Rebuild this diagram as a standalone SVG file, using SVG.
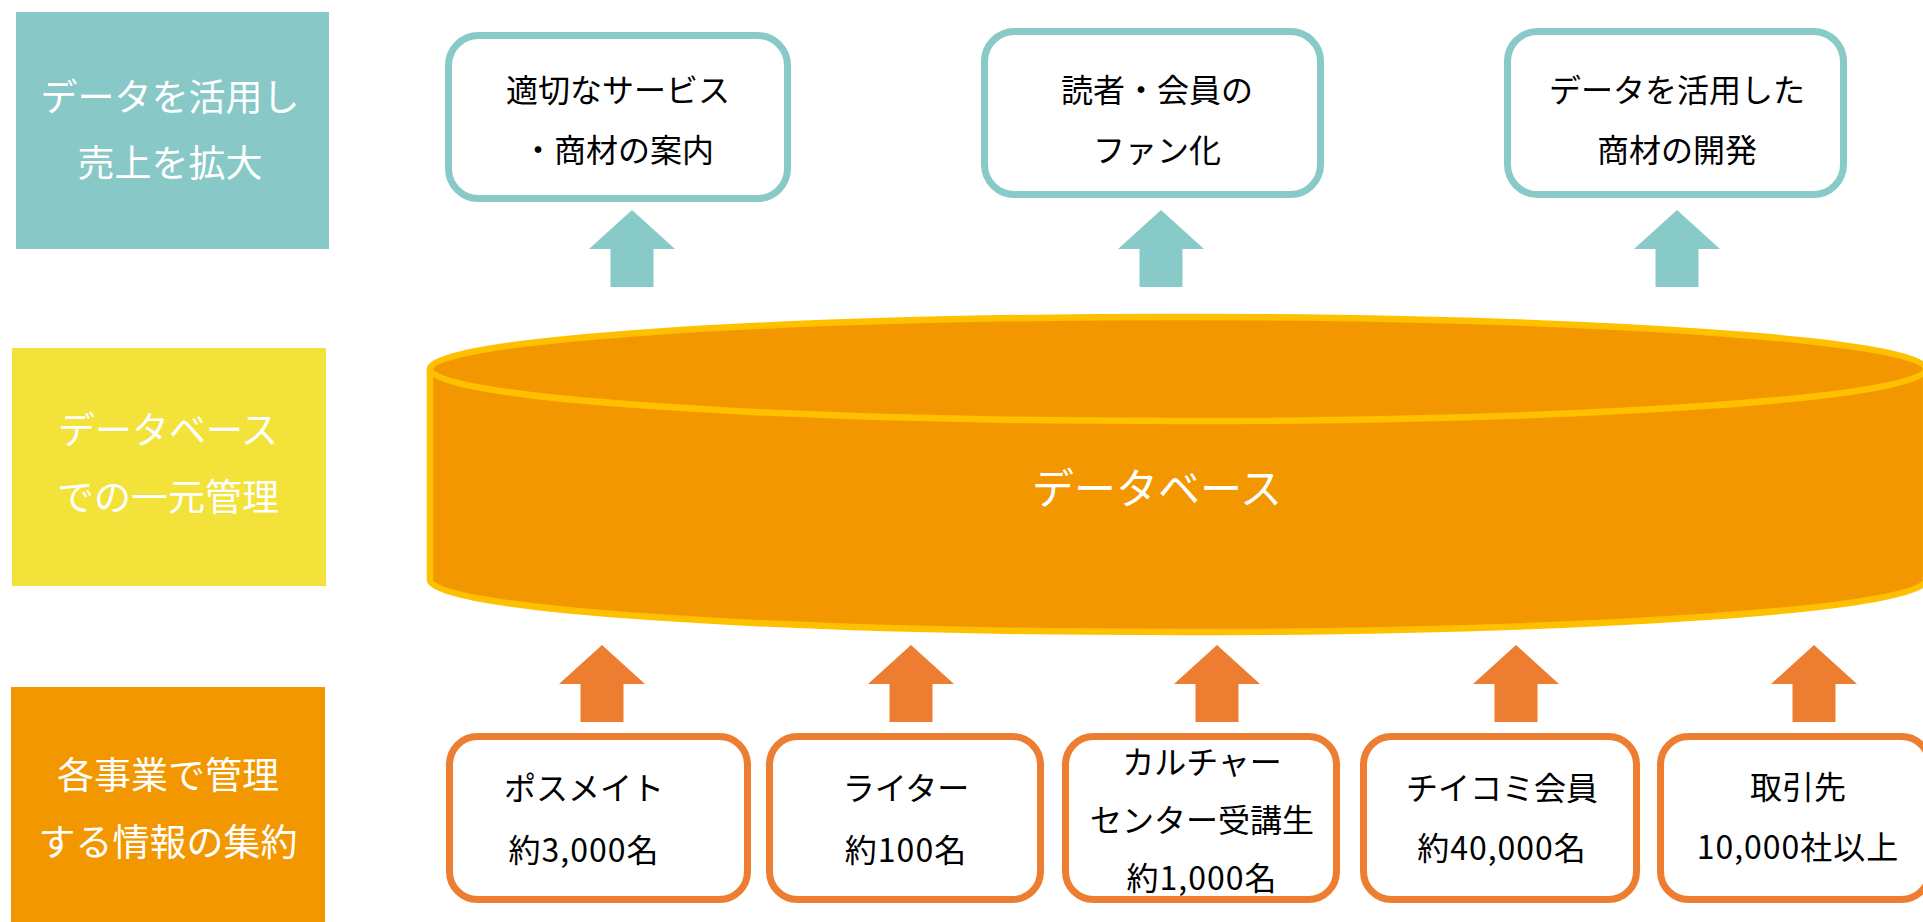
<svg xmlns="http://www.w3.org/2000/svg" width="1923" height="922" viewBox="0 0 1923 922">
<style>
.lbl{font-family:"Noto Sans CJK JP","Noto Sans",sans-serif;font-size:37px;fill:#ffffff;text-anchor:middle}
.txt{font-family:"Noto Sans CJK JP","Noto Sans",sans-serif;font-size:32px;fill:#000000;text-anchor:middle}
.dbt{font-family:"Noto Sans CJK JP","Noto Sans",sans-serif;font-size:42px;fill:#ffffff;text-anchor:middle}
.tbox{fill:#ffffff;stroke:#88CAC8;stroke-width:7}
.obox{fill:#ffffff;stroke:#ED7D31;stroke-width:7}
.tarr{fill:#88CAC8}
.oarr{fill:#ED7D31}
</style>
<rect width="1923" height="922" fill="#ffffff"/>

<g id="label-top">
<rect x="16" y="12" width="313" height="237" fill="#88C9C7"/>
<text class="lbl" x="170" y="111">データを活用し</text>
<text class="lbl" x="170" y="177">売上を拡大</text>
</g>
<g id="label-mid">
<rect x="12" y="348" width="314" height="238" fill="#F2E239"/>
<text class="lbl" x="168" y="444">データベース</text>
<text class="lbl" x="168" y="511">での一元管理</text>
</g>
<g id="label-bottom">
<rect x="11" y="687" width="314" height="235" fill="#F39700"/>
<text class="lbl" x="168" y="789">各事業で管理</text>
<text class="lbl" x="168" y="856">する情報の集約</text>
</g>

<g id="out1">
<rect class="tbox" x="448.5" y="35.5" width="339" height="163" rx="30"/>
<text class="txt" x="618" y="102">適切なサービス</text>
<text class="txt" x="618" y="162">・商材の案内</text>
</g>
<g id="out2">
<rect class="tbox" x="984.5" y="31.5" width="336" height="163" rx="30"/>
<text class="txt" x="1157" y="102">読者・会員の</text>
<text class="txt" x="1157" y="162">ファン化</text>
</g>
<g id="out3">
<rect class="tbox" x="1507.5" y="31.5" width="336" height="163" rx="30"/>
<text class="txt" x="1677" y="102">データを活用した</text>
<text class="txt" x="1677" y="162">商材の開発</text>
</g>

<g id="database">
<path d="M430,369 L430,580 A748,52 0 0 0 1926,580 L1926,369 Z" fill="#F39700" stroke="#FFC000" stroke-width="6.5" stroke-linejoin="round"/>
<ellipse cx="1178" cy="369" rx="748" ry="52" fill="#F39700" stroke="#FFC000" stroke-width="6.5"/>
<text class="dbt" x="1157" y="504">データベース</text>
</g>

<g id="src1">
<rect class="obox" x="449.5" y="736.5" width="298" height="163" rx="28"/>
<text class="txt" x="584" y="800">ポスメイト</text>
<text class="txt" x="584" y="862" letter-spacing="1">約3,000名</text>
</g>
<g id="src2">
<rect class="obox" x="769.5" y="736.5" width="271" height="163" rx="28"/>
<text class="txt" x="906" y="800">ライター</text>
<text class="txt" x="906" y="862" letter-spacing="1">約100名</text>
</g>
<g id="src3">
<rect class="obox" x="1065.5" y="736.5" width="271" height="163" rx="28"/>
<text class="txt" x="1202" y="774">カルチャー</text>
<text class="txt" x="1202" y="832">センター受講生</text>
<text class="txt" x="1202" y="890" letter-spacing="1">約1,000名</text>
</g>
<g id="src4">
<rect class="obox" x="1363.5" y="736.5" width="273" height="163" rx="28"/>
<text class="txt" x="1502" y="800">チイコミ会員</text>
<text class="txt" x="1502" y="860" letter-spacing="1">約40,000名</text>
</g>
<g id="src5">
<rect class="obox" x="1660.5" y="736.5" width="269" height="163" rx="28"/>
<text class="txt" x="1798" y="799">取引先</text>
<text class="txt" x="1798" y="859" letter-spacing="1">10,000社以上</text>
</g>

<g id="connectors">
<path class="tarr" d="M632,210 L675,249 L653.5,249 L653.5,287 L610.5,287 L610.5,249 L589,249 Z"/>
<path class="tarr" d="M1161,210 L1204,249 L1182.5,249 L1182.5,287 L1139.5,287 L1139.5,249 L1118,249 Z"/>
<path class="tarr" d="M1677,210 L1720,249 L1698.5,249 L1698.5,287 L1655.5,287 L1655.5,249 L1634,249 Z"/>
<path class="oarr" d="M602,645 L645,684 L623.5,684 L623.5,722 L580.5,722 L580.5,684 L559,684 Z"/>
<path class="oarr" d="M911,645 L954,684 L932.5,684 L932.5,722 L889.5,722 L889.5,684 L868,684 Z"/>
<path class="oarr" d="M1217,645 L1260,684 L1238.5,684 L1238.5,722 L1195.5,722 L1195.5,684 L1174,684 Z"/>
<path class="oarr" d="M1516,645 L1559,684 L1537.5,684 L1537.5,722 L1494.5,722 L1494.5,684 L1473,684 Z"/>
<path class="oarr" d="M1814,645 L1857,684 L1835.5,684 L1835.5,722 L1792.5,722 L1792.5,684 L1771,684 Z"/>
</g>
</svg>
